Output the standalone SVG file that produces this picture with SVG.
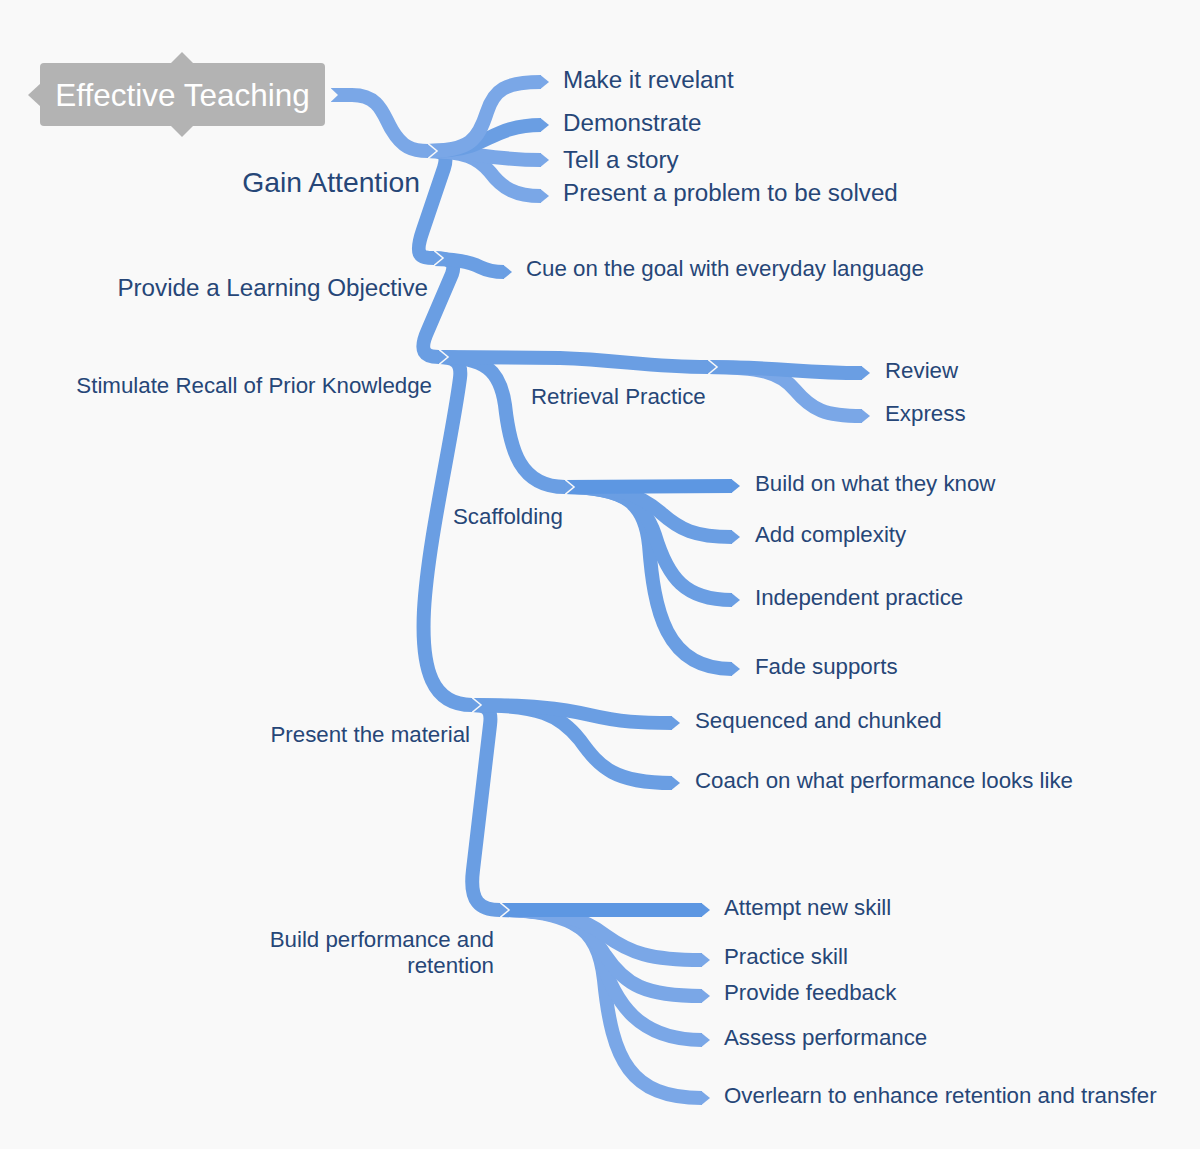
<svg xmlns="http://www.w3.org/2000/svg" width="1200" height="1149" viewBox="0 0 1200 1149">
  <style>
    .lbl { font-family: "Liberation Sans", Arial, sans-serif; fill: #264677; }
    .s22 { font-size: 22.3px; }
    .s24 { font-size: 24.2px; }
    .s28 { font-size: 28.3px; }
    .end { text-anchor: end; }
    .rb { fill: none; stroke-width: 14; stroke-linecap: butt; stroke-linejoin: round; }
    .ca { stroke: #6a9ee3; marker-end: url(#arrA); }
    .cb { stroke: #7aa7e7; marker-end: url(#arrB); }
    .cd { stroke: #5d97e2; marker-end: url(#arrD); }
  </style>
  <defs>
    <marker id="arrA" markerUnits="userSpaceOnUse" viewBox="-2 -10 14 20" markerWidth="14" markerHeight="20" refX="0" refY="0" orient="auto" overflow="visible">
      <path d="M0,-8.6 L10.2,0 L0,8.6 Z" fill="#f9f9f9"/>
      <path d="M-0.6,-7 L8,0 L-0.6,7 Z" fill="#6a9ee3"/>
    </marker>
    <marker id="arrB" markerUnits="userSpaceOnUse" viewBox="-2 -10 14 20" markerWidth="14" markerHeight="20" refX="0" refY="0" orient="auto" overflow="visible">
      <path d="M0,-8.6 L10.2,0 L0,8.6 Z" fill="#f9f9f9"/>
      <path d="M-0.6,-7 L8,0 L-0.6,7 Z" fill="#7aa7e7"/>
    </marker>
    <marker id="arrD" markerUnits="userSpaceOnUse" viewBox="-2 -10 14 20" markerWidth="14" markerHeight="20" refX="0" refY="0" orient="auto" overflow="visible">
      <path d="M0,-8.6 L10.2,0 L0,8.6 Z" fill="#f9f9f9"/>
      <path d="M-0.6,-7 L8,0 L-0.6,7 Z" fill="#5d97e2"/>
    </marker>
  </defs>

  <rect x="0" y="0" width="1200" height="1149" fill="#f9f9f9"/>

  <g id="connectors">
    <!-- Build performance children -->
    <path class="rb cb" d="M500,910 C570,910 598,925 604,980 C612,1060 630,1098 702,1098"/>
    <path class="rb cb" d="M500,910 C570,910 590,925 600,955 C615,1005 640,1040 702,1040"/>
    <path class="rb cb" d="M500,910 C568,910 590,930 605,955 C625,985 645,996 702,996"/>
    <path class="rb cb" d="M500,910 C560,910 585,920 605,935 C630,953 650,960 702,960"/>
    <path class="rb cd" d="M500,910 L702,910"/>
    <!-- Present the material children -->
    <path class="rb ca" d="M472,705 C488,705 492,710 490,725 L473,870 C469,902 480,910 500,910"/>
    <path class="rb ca" d="M472,705 C540,705 560,715 580,740 C600,768 615,783 672,783"/>
    <path class="rb ca" d="M472,705 C530,705 560,708 590,715 C620,722 640,723 672,723"/>
    <!-- Scaffolding children -->
    <path class="rb ca" d="M565,487 C628,487 645,505 649,545 C654,610 665,669 732,669"/>
    <path class="rb ca" d="M565,487 C625,487 645,505 655,535 C668,578 685,600 732,600"/>
    <path class="rb ca" d="M565,487 C620,487 640,495 660,512 C680,530 695,537 732,537"/>
    <path class="rb cd" d="M565,487 L732,486"/>
    <!-- Retrieval Practice children -->
    <path class="rb cb" d="M708,367 C760,367 780,372 795,390 C812,410 825,416 862,416"/>
    <path class="rb ca" d="M708,367 C780,367 800,373 862,373"/>
    <!-- Stimulate Recall children -->
    <path class="rb ca" d="M439,357 C455,357 462,362 460,378 C452,440 428,540 424,610 C421,670 432,705 472,705"/>
    <path class="rb ca" d="M439,357 C485,357 500,370 505,405 C510,450 520,487 565,487"/>
    <path class="rb ca" d="M439,357 L560,358 C620,360 650,367 708,367"/>
    <!-- Provide a Learning Objective children -->
    <path class="rb ca" d="M434,258 C450,258 456,262 452,274 L428,330 C418,352 425,357 439,357"/>
    <path class="rb ca" d="M434,259 C458,259 470,262 480,267 C488,271 494,272 504,272"/>
    <!-- Gain Attention children -->
    <path class="rb ca" d="M427,151 C445,151 448,155 444,168 L423,230 C414,256 420,258 434,258"/>
    <path class="rb cb" d="M427,151 C465,151 478,158 490,172 C502,188 515,196 541,196"/>
    <path class="rb cb" d="M427,151 C470,151 490,160 541,160"/>
    <path class="rb ca" d="M427,151 L450,150 C485,148 495,125 541,125"/>
    <path class="rb cb" d="M427,151 C470,151 478,140 487,112 C494,90 505,82 541,82"/>
    <!-- Root to Gain Attention -->
    <path class="rb cb" d="M331,95 L352,95 C380,95 383,115 392,130 C402,147 412,151 428,151"/>
    <polygon points="330,87.5 338,95 330,102.5" fill="#f9f9f9"/>
  </g>

  <g id="root">
    <rect x="40" y="63" width="285" height="63" rx="4" fill="#b3b3b3"/>
    <polygon points="170,64 182,52 194,64" fill="#b3b3b3"/>
    <polygon points="170,125 182,137 194,125" fill="#b3b3b3"/>
    <polygon points="41,83 28,95 41,107" fill="#b3b3b3"/>
    <text x="182.5" y="106" text-anchor="middle" style="font-family:'Liberation Sans', Arial, sans-serif; font-size:31.5px; fill:#ffffff;">Effective Teaching</text>
  </g>

  <g id="gain-attention"><text class="lbl s28 end" x="420" y="192">Gain Attention</text></g>
  <g id="make-relevant"><text class="lbl s24" x="563" y="88">Make it revelant</text></g>
  <g id="demonstrate"><text class="lbl s24" x="563" y="131">Demonstrate</text></g>
  <g id="tell-story"><text class="lbl s24" x="563" y="168">Tell a story</text></g>
  <g id="present-problem"><text class="lbl s24" x="563" y="201">Present a problem to be solved</text></g>

  <g id="learning-objective"><text class="lbl s24 end" x="428" y="296">Provide a Learning Objective</text></g>
  <g id="cue-goal"><text class="lbl s22" x="526" y="276">Cue on the goal with everyday language</text></g>

  <g id="stimulate-recall"><text class="lbl s22 end" x="432" y="393">Stimulate Recall of Prior Knowledge</text></g>
  <g id="retrieval-practice"><text class="lbl s22" x="531" y="404">Retrieval Practice</text></g>
  <g id="review"><text class="lbl s22" x="885" y="378">Review</text></g>
  <g id="express"><text class="lbl s22" x="885" y="421">Express</text></g>

  <g id="scaffolding"><text class="lbl s22" x="453" y="524">Scaffolding</text></g>
  <g id="build-on"><text class="lbl s22" x="755" y="491">Build on what they know</text></g>
  <g id="add-complexity"><text class="lbl s22" x="755" y="542">Add complexity</text></g>
  <g id="independent-practice"><text class="lbl s22" x="755" y="605">Independent practice</text></g>
  <g id="fade-supports"><text class="lbl s22" x="755" y="674">Fade supports</text></g>

  <g id="present-material"><text class="lbl s22 end" x="470" y="742">Present the material</text></g>
  <g id="sequenced"><text class="lbl s22" x="695" y="728">Sequenced and chunked</text></g>
  <g id="coach"><text class="lbl s22" x="695" y="788">Coach on what performance looks like</text></g>

  <g id="build-performance">
    <text class="lbl s22 end" x="494" y="947">Build performance and</text>
    <text class="lbl s22 end" x="494" y="973">retention</text>
  </g>
  <g id="attempt"><text class="lbl s22" x="724" y="915">Attempt new skill</text></g>
  <g id="practice"><text class="lbl s22" x="724" y="964">Practice skill</text></g>
  <g id="feedback"><text class="lbl s22" x="724" y="1000">Provide feedback</text></g>
  <g id="assess"><text class="lbl s22" x="724" y="1045">Assess performance</text></g>
  <g id="overlearn"><text class="lbl s22" x="724" y="1103">Overlearn to enhance retention and transfer</text></g>
</svg>
